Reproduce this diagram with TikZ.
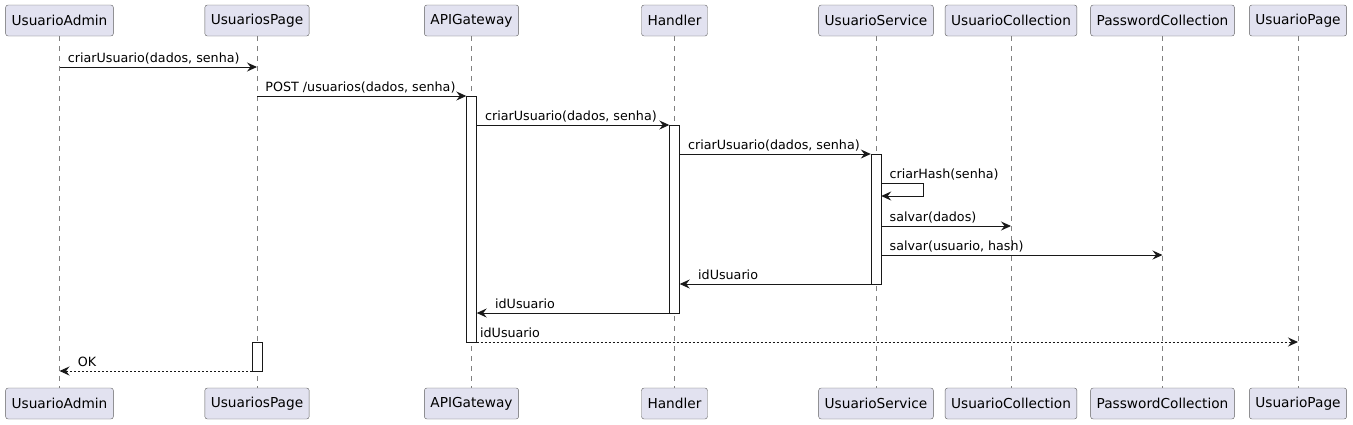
\documentclass[tikz,border=0pt]{standalone}
\usepackage{fontspec}
\setmainfont{DejaVu Sans}
\usetikzlibrary{arrows.meta,positioning}
\definecolor{partfill}{HTML}{E2E2F0}
\definecolor{partdraw}{HTML}{181818}

\begin{document}
\begin{tikzpicture}[x=1pt,y=-1pt,
  participant/.style={draw=partdraw!70, fill=partfill, rounded corners=2.5pt, minimum height=31pt, inner xsep=6pt, font=\fontsize{13.7}{15}\selectfont},
  lifeline/.style={draw=gray, dash pattern=on 5pt off 5pt, line width=0.5pt},
  act/.style={draw=partdraw, fill=white, minimum width=10pt, inner sep=0pt, anchor=north},
  msg/.style={draw=partdraw, line width=0.9pt, -{Stealth[length=10pt,width=9pt,inset=3.5pt]}},
  reply/.style={msg, dash pattern=on 2pt off 2pt},
  lbl/.style={font=\fontsize{12.7}{15}\selectfont, inner sep=0pt, anchor=base west}
]
\useasboundingbox (0,0) rectangle (1353,424);

% participants, top and bottom
\node[participant] (admin) at (59.5,20.5) {UsuarioAdmin};
\node[participant] (page) at (257,20.5) {UsuariosPage};
\node[participant] (gateway) at (471.5,20.5) {APIGateway};
\node[participant] (handler) at (674.5,20.5) {Handler};
\node[participant] (service) at (876,20.5) {UsuarioService};
\node[participant] (ucoll) at (1011,20.5) {UsuarioCollection};
\node[participant] (pcoll) at (1162.5,20.5) {PasswordCollection};
\node[participant] (upage) at (1298,20.5) {UsuarioPage};

\node[participant] (adminB) at (59.5,403.5) {UsuarioAdmin};
\node[participant] (pageB) at (257,403.5) {UsuariosPage};
\node[participant] (gatewayB) at (471.5,403.5) {APIGateway};
\node[participant] (handlerB) at (674.5,403.5) {Handler};
\node[participant] (serviceB) at (876,403.5) {UsuarioService};
\node[participant] (ucollB) at (1011,403.5) {UsuarioCollection};
\node[participant] (pcollB) at (1162.5,403.5) {PasswordCollection};
\node[participant] (upageB) at (1298,403.5) {UsuarioPage};

% lifelines
\foreach \p in {admin,page,gateway,handler,service,ucoll,pcoll,upage}
  \draw[lifeline] (\p) -- (\p B);

% message rows
\coordinate (r1) at (0,67);
\coordinate (r2) at (0,96);
\coordinate (r3) at (0,125);
\coordinate (r4) at (0,154);
\coordinate (r5) at (0,183);
\coordinate (r6) at (0,226);
\coordinate (r7) at (0,255);
\coordinate (r8) at (0,284);
\coordinate (r9) at (0,313);
\coordinate (r10) at (0,342);
\coordinate (r11) at (0,371);
\coordinate (selfc) at (923,196);

% activations
\node[act, minimum height=246pt] (aGateway) at (gateway |- r2) {};
\node[act, minimum height=188pt] (aHandler) at (handler |- r3) {};
\node[act, minimum height=130pt] (aService) at (service |- r4) {};
\node[act, minimum height=29pt] (aPage) at (page |- r10) {};

% calls
\draw[msg] (admin |- r1) -- (page |- r1) node[lbl, pos=0, xshift=8pt, yshift=5pt] {criarUsuario(dados, senha)};
\draw[msg] (page |- r2) -- (aGateway.west |- r2) node[lbl, pos=0, xshift=8pt, yshift=5pt] {POST /usuarios(dados, senha)};
\draw[msg] (aGateway.east |- r3) -- (aHandler.west |- r3) node[lbl, pos=0, xshift=8pt, yshift=5pt] {criarUsuario(dados, senha)};
\draw[msg] (aHandler.east |- r4) -- (aService.west |- r4) node[lbl, pos=0, xshift=8pt, yshift=5pt] {criarUsuario(dados, senha)};
\draw[msg] (aService.east |- r5) node[lbl, xshift=8pt, yshift=5pt] {criarHash(senha)} -| (selfc) -- (aService.east |- selfc);
\draw[msg] (aService.east |- r6) -- (ucoll |- r6) node[lbl, pos=0, xshift=8pt, yshift=5pt] {salvar(dados)};
\draw[msg] (aService.east |- r7) -- (pcoll |- r7) node[lbl, pos=0, xshift=8pt, yshift=5pt] {salvar(usuario, hash)};

% returns
\draw[msg] (aService.west |- r8) -- (aHandler.east |- r8) node[lbl, pos=1, xshift=18pt, yshift=5pt] {idUsuario};
\draw[msg] (aHandler.west |- r9) -- (aGateway.east |- r9) node[lbl, pos=1, xshift=18pt, yshift=5pt] {idUsuario};
\draw[reply] (aGateway.east |- r10) -- (upage |- r10) node[lbl, pos=0, xshift=3pt, yshift=5pt] {idUsuario};
\draw[reply] (aPage.west |- r11) -- (admin |- r11) node[lbl, pos=1, xshift=18pt, yshift=5pt] {OK};

\end{tikzpicture}
\end{document}
